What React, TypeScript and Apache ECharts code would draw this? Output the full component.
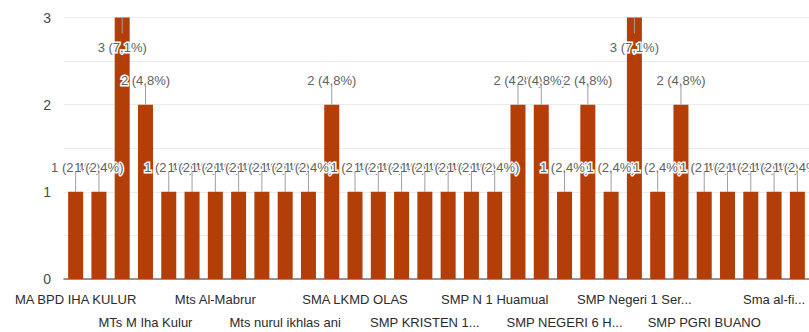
import React, { useEffect, useRef } from "react";
import * as echarts from "echarts";

// Responses per school (sorted alphabetically, as the form summary lists them)
const schools: string[] = [
  "MA BPD IHA KULUR",
  "MA Negeri 1 SBB",
  "MTs Al-Hidayah",
  "MTs M Iha Kulur",
  "MTs Negeri 2 SBB",
  "Mts Al-Ikhlas",
  "Mts Al-Mabrur",
  "Mts Hidayatullah",
  "Mts Nurul Huda",
  "Mts nurul ikhlas ani",
  "SMA Kristen Piru",
  "SMA Negeri 1 SBB",
  "SMA LKMD OLAS",
  "SMA Negeri 3 SBB",
  "SMK Negeri 1 SBB",
  "SMP KRISTEN 1...",
  "SMP Kristen Kairatu",
  "SMP Muhammadiyah",
  "SMP N 1 Huamual",
  "SMP N 2 Huamual",
  "SMP NEGERI 3 SBB",
  "SMP NEGERI 6 H...",
  "SMP NEGERI 7 SBB",
  "SMP Negeri 1 Kairatu",
  "SMP Negeri 1 Ser...",
  "SMP Negeri 2 Piru",
  "SMP Negeri 4 SBB",
  "SMP PGRI BUANO",
  "SMP Satu Atap Luhu",
  "SMP Teladan Piru",
  "Sma al-fi...",
  "Sma negeri 2 SBB",
];

const counts: number[] = [
  1, 1, 3, 2, 1, 1, 1, 1, 1, 1, 1, 2, 1, 1, 1, 1,
  1, 1, 1, 2, 2, 1, 2, 1, 3, 1, 2, 1, 1, 1, 1, 1,
];

const yTicks: number[] = [0, 1, 2, 3];

const BAR_COLOR = "#b33e07";
const LABEL_COLOR = "#616161";
const STEM_COLOR = "#9e9e9e";
const FONT = "Liberation Sans, Arial, sans-serif";

export default function App() {
  const ref = useRef<HTMLDivElement>(null);

  useEffect(() => {
    document.body.style.margin = "0";
    if (!ref.current) return;
    const chart = echarts.init(ref.current, undefined, { renderer: "svg" });

    const total = counts.reduce((a, b) => a + b, 0);
    const yMax = yTicks[yTicks.length - 1];
    const pct = (v: number) =>
      (Math.round((v / total) * 1000) / 10).toFixed(1).replace(".", ",");

    const barData = counts.map((v) =>
      v >= yMax
        ? { value: v, label: { position: "insideTop", distance: 23 } }
        : { value: v }
    );

    // every third school gets a category label, staggered over two rows
    const labelled = schools
      .map((name, i) => [i, name] as [number, string])
      .filter(([i]) => i % 3 === 0);

    chart.setOption({
      animation: false,
      grid: { left: 64, right: 0, top: 17.5, bottom: 53, containLabel: false },
      xAxis: {
        type: "category",
        data: schools,
        axisTick: { show: false },
        axisLine: { lineStyle: { color: "#757575", width: 1.5 } },
        axisLabel: { show: false },
      },
      yAxis: {
        type: "value",
        min: 0,
        max: yMax,
        interval: 0.5,
        axisLine: { show: false },
        axisTick: { show: false },
        splitLine: { lineStyle: { color: "#ebebeb", width: 1 } },
        axisLabel: {
          margin: 13,
          color: "#4a4a4a",
          fontFamily: FONT,
          fontSize: 14,
          formatter: (v: number) => (yTicks.includes(v) ? String(v) : ""),
        },
      },
      series: [
        {
          type: "bar",
          data: barData,
          barWidth: 15,
          itemStyle: { color: BAR_COLOR },
          label: {
            show: true,
            position: "top",
            distance: 18,
            color: LABEL_COLOR,
            fontFamily: FONT,
            fontSize: 13,
            textBorderColor: "#ffffff",
            textBorderWidth: 3,
            formatter: (p: any) => `${p.value} (${pct(p.value)}%)`,
          },
        },
        {
          // leader stems joining each value label to its bar
          type: "custom",
          z: 3,
          silent: true,
          data: counts.map((v, i) => [i, v]),
          renderItem: (params: any, api: any) => {
            const p = api.coord([api.value(0), api.value(1)]);
            const top = params.coordSys.y;
            const inside = p[1] - 30 < top;
            const y2 = inside ? p[1] + 16 : p[1] - 20;
            return {
              type: "line",
              shape: { x1: p[0], y1: p[1], x2: p[0], y2 },
              style: { stroke: STEM_COLOR, lineWidth: 1 },
            };
          },
        },
        {
          // staggered category names under the axis
          type: "custom",
          silent: true,
          clip: false,
          data: labelled.map(([i]) => [i, 0]),
          renderItem: (params: any, api: any) => {
            const idx = api.value(0);
            const p = api.coord([idx, 0]);
            const row = (idx / 3) % 2;
            return {
              type: "text",
              x: p[0],
              y: p[1] + 20 + row * 23,
              style: {
                text: schools[idx],
                fill: "#2b2b2b",
                font: `13px ${FONT}`,
                align: "center",
                verticalAlign: "middle",
              },
            };
          },
        },
      ],
    });

    return () => chart.dispose();
  }, []);

  return <div ref={ref} style={{ width: 809, height: 332 }} />;
}
